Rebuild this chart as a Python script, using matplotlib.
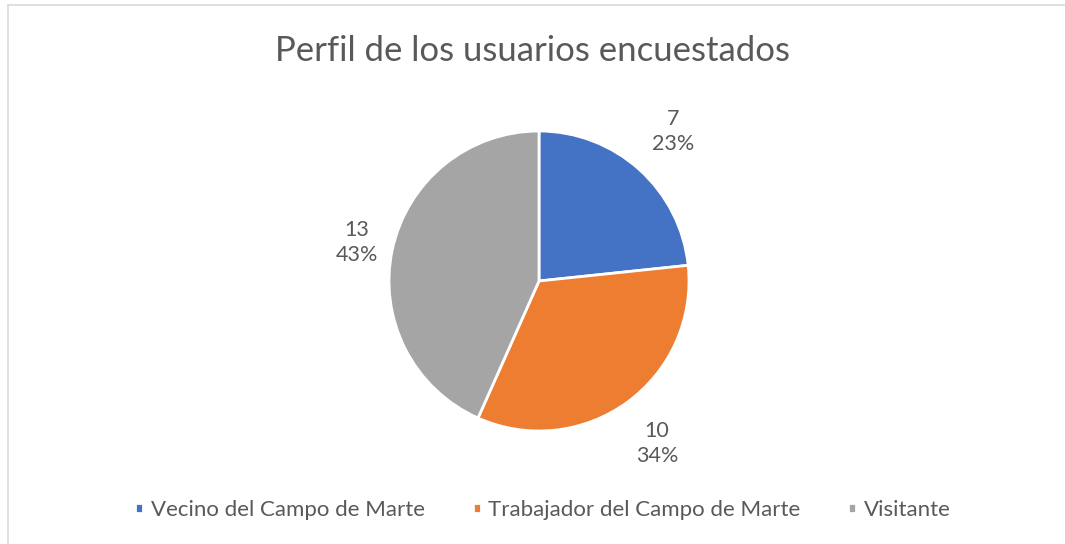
import numpy as np
import matplotlib
matplotlib.use("Agg")
from matplotlib import pyplot as plt
from matplotlib.patches import Rectangle

categorias = ["Vecino del Campo de Marte", "Trabajador del Campo de Marte", "Visitante"]
valores = [7, 10, 13]
porcentajes = ["23%", "34%", "43%"]
colores = ["#4472C4", "#ED7D31", "#A5A5A5"]
dist_etiquetas = [1.34, 1.34, 1.24]  # Excel "best fit" placement, roughly

plt.rcParams['font.family'] = ['Lato', 'DejaVu Sans']
gris = "#595959"

W, H = 1065, 544
fig = plt.figure(figsize=(W / 100, H / 100), dpi=100)

# light chart border (only left and top show in the crop)
fig.patches.append(Rectangle((8 / W, -0.1), 1.2, (H - 5) / H + 0.1, transform=fig.transFigure,
                             fill=False, edgecolor="#D9D9D9", linewidth=1.2))

cx, cy, r = 539, 281, 150
ax = fig.add_axes([(cx - r) / W, (H - cy - r) / H, 2 * r / W, 2 * r / H])
wedges, _ = ax.pie(valores, colors=colores, startangle=90, counterclock=False,
                   wedgeprops=dict(edgecolor="white", linewidth=2))
ax.set_xlim(-1, 1)
ax.set_ylim(-1, 1)
ax.set_aspect("equal")

for w, v, p, d in zip(wedges, valores, porcentajes, dist_etiquetas):
    ang = np.deg2rad((w.theta1 + w.theta2) / 2)
    ax.text(d * np.cos(ang), d * np.sin(ang), f"{v}\n{p}", ha="center", va="center",
            fontsize=15.5, color=gris, linespacing=1.3)

fig.text(0.5, (H - 51) / H, "Perfil de los usuarios encuestados", ha="center", va="center",
         fontsize=25, color=gris)

leg = fig.legend(wedges, categorias, loc="center", bbox_to_anchor=(543 / W, (H - 510) / H), ncol=3,
                 frameon=False, fontsize=16, labelcolor=gris, handlelength=0.36, handleheight=0.36,
                 handletextpad=0.35, columnspacing=2.15)

plt.savefig("out.png", dpi=100)
